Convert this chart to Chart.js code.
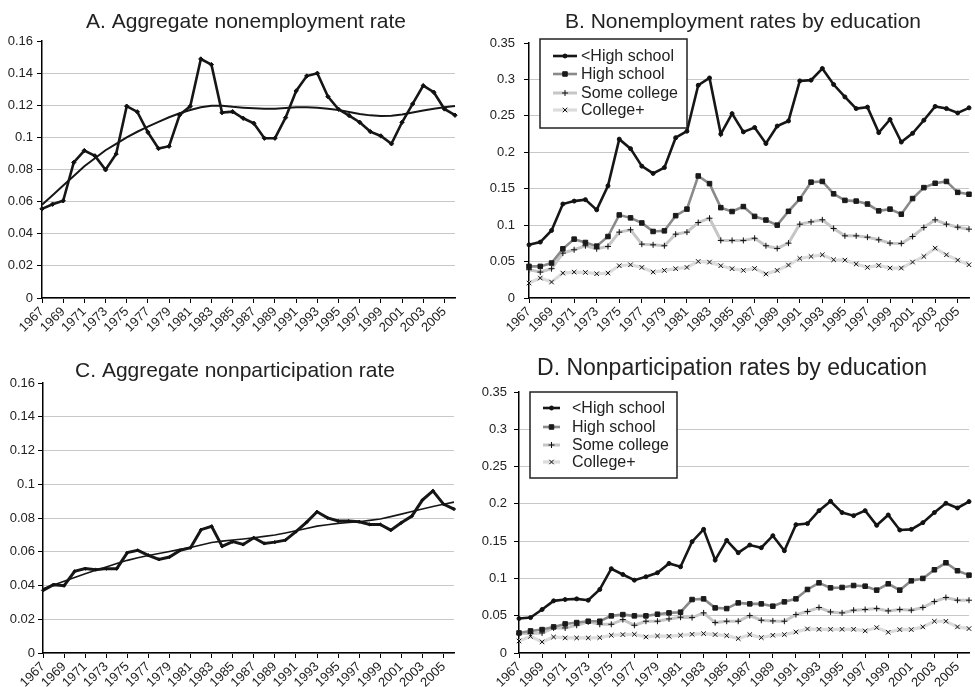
<!DOCTYPE html>
<html><head><meta charset="utf-8">
<script src="https://cdn.jsdelivr.net/npm/chart.js@4/dist/chart.umd.min.js"></script>
<style>
html,body{margin:0;padding:0;background:#fff;}
#wrap{position:relative;width:975px;height:687px;background:#fff;overflow:hidden;}
canvas{position:absolute;}
</style>
</head><body><div id="wrap">
<canvas id="cA" width="487" height="343" style="left:0;top:0;width:487px;height:343px"></canvas>
<canvas id="cB" width="488" height="343" style="left:487px;top:0;width:488px;height:343px"></canvas>
<canvas id="cC" width="487" height="344" style="left:0;top:343px;width:487px;height:344px"></canvas>
<canvas id="cD" width="505" height="344" style="left:470px;top:343px;width:505px;height:344px"></canvas>
</div>
<script>
// ---------- DATA ----------
const years = ['1967','1968','1969','1970','1971','1972','1973','1974','1975','1976','1977','1978','1979','1980',
  '1981','1982','1983','1984','1985','1986','1987','1988','1989','1990','1991','1992','1993','1994','1995','1996',
  '1997','1998','1999','2000','2001','2002','2003','2004','2005','2006'];

const seriesNames = ['<High school','High school','Some college','College+'];

// A. Aggregate nonemployment rate
const aggNonemp = [0.0555,0.0584,0.0605,0.0844,0.0918,0.0885,0.0798,0.0897,0.1194,0.1159,0.1032,0.0931,0.0945,0.114,0.1194,0.1488,0.1453,0.1154,0.116,
  0.1119,0.1088,0.0995,0.0995,0.1123,0.1289,0.1382,0.1399,0.1254,0.1175,0.1136,0.1094,0.1036,0.1009,0.096,0.1094,0.1208,0.1322,0.1281,0.1177,0.1138];
const aggNonempTrend = [0.058,0.064,0.070,0.076,0.082,0.087,0.092,0.096,0.100,0.1035,0.1067,0.1097,0.1125,0.115,0.117,0.1187,0.1197,0.1197,0.119,
  0.1185,0.1181,0.1178,0.1178,0.1183,0.1187,0.1188,0.1185,0.1178,0.117,0.1158,0.1146,0.1137,0.1133,0.1135,0.1143,0.1155,0.1167,0.1178,0.1188,0.1196];

// B. Nonemployment rates by education
const nonempLessHS = [0.073,0.0767,0.0927,0.129,0.133,0.135,0.121,0.154,0.218,0.205,0.181,0.171,0.179,0.220,0.229,0.292,0.302,0.225,0.253,
  0.228,0.234,0.212,0.236,0.243,0.298,0.299,0.315,0.293,0.276,0.260,0.262,0.227,0.245,0.214,0.226,0.244,0.263,0.260,0.254,0.261];
const nonempHS = [0.0434,0.0434,0.048,0.0675,0.0808,0.0762,0.0712,0.0844,0.114,0.110,0.103,0.0913,0.0922,0.113,0.122,0.1675,0.157,0.124,0.1187,
  0.1255,0.112,0.107,0.100,0.119,0.136,0.159,0.160,0.143,0.134,0.133,0.129,0.1196,0.122,0.115,0.1365,0.1515,0.1575,0.160,0.145,0.1424];
const nonempSomeCol = [0.0388,0.0356,0.0402,0.0616,0.0662,0.0717,0.0675,0.0707,0.0904,0.0936,0.0739,0.073,0.0717,0.0876,0.0904,0.1036,0.1095,0.079,0.079,
  0.079,0.082,0.0717,0.068,0.0753,0.1013,0.1045,0.1073,0.0954,0.0853,0.0853,0.0835,0.0799,0.0753,0.0749,0.0844,0.0968,0.1073,0.1013,0.0972,0.0945];
const nonempColPlus = [0.0205,0.0274,0.0219,0.0342,0.0356,0.0351,0.0333,0.0342,0.0443,0.0456,0.042,0.0356,0.0379,0.0402,0.042,0.0502,0.0493,0.0443,0.0402,
  0.0379,0.0406,0.0329,0.0379,0.0452,0.0543,0.057,0.0593,0.0525,0.052,0.0466,0.042,0.0447,0.0411,0.0411,0.0493,0.057,0.0685,0.0593,0.052,0.0456];

// C. Aggregate nonparticipation rate
const aggNonpart = [0.0371,0.0405,0.0399,0.0484,0.05,0.0494,0.05,0.05,0.0595,0.0608,0.0579,0.0555,0.0569,0.0608,0.0624,0.0731,0.0751,0.0632,0.066,
  0.0643,0.0683,0.0649,0.0657,0.0669,0.0719,0.0774,0.0837,0.0801,0.0782,0.0782,0.0778,0.0762,0.0762,0.0728,0.0772,0.0811,0.0906,0.0961,0.0882,0.0853];
const aggNonpartTrend = [0.038,0.0403,0.0425,0.0448,0.047,0.049,0.051,0.053,0.0549,0.0565,0.0578,0.059,0.0602,0.0614,0.0625,0.064,0.0655,0.0663,0.067,
  0.0676,0.0683,0.0691,0.0699,0.0711,0.0724,0.0738,0.0752,0.076,0.0768,0.0773,0.0778,0.0786,0.0794,0.0808,0.0823,0.0838,0.0853,0.0868,0.0882,0.0894];

// D. Nonparticipation rates by education
const nonpartLessHS = [0.0462,0.0475,0.0583,0.0699,0.0717,0.0726,0.0708,0.0852,0.113,0.1053,0.0977,0.1022,0.1076,0.1201,0.1156,0.1493,0.1658,0.1246,0.151,
  0.1345,0.1448,0.1412,0.1573,0.1372,0.1721,0.1735,0.1909,0.2035,0.1883,0.1842,0.1909,0.1712,0.1851,0.1649,0.1658,0.1748,0.1883,0.2008,0.1945,0.203];
const nonpartHS = [0.0269,0.0296,0.0314,0.035,0.039,0.0408,0.0426,0.0426,0.0498,0.0515,0.0498,0.0498,0.052,0.0538,0.0547,0.0717,0.0726,0.0605,0.0596,
  0.0672,0.0659,0.0659,0.0628,0.0686,0.0726,0.0852,0.0941,0.0874,0.0879,0.0905,0.0896,0.0843,0.0928,0.0843,0.0968,0.1,0.1116,0.121,0.1103,0.1044];
const nonpartSomeCol = [0.026,0.026,0.0269,0.0336,0.0336,0.0372,0.0417,0.0385,0.0385,0.0448,0.0372,0.0426,0.0426,0.0457,0.048,0.0475,0.0538,0.0408,0.0426,
  0.0426,0.0502,0.0439,0.043,0.0426,0.0515,0.0556,0.061,0.0551,0.0538,0.0574,0.0583,0.0596,0.0565,0.0583,0.0574,0.061,0.069,0.0744,0.0708,0.0708];
const nonpartColPlus = [0.0161,0.0224,0.0148,0.0215,0.0202,0.0202,0.0202,0.0206,0.0238,0.0247,0.0251,0.0215,0.0229,0.0224,0.0238,0.0251,0.026,0.0247,0.0233,
  0.0193,0.0247,0.0206,0.0238,0.0247,0.0282,0.0323,0.0318,0.0318,0.0318,0.0318,0.0296,0.0341,0.0278,0.0314,0.0314,0.035,0.0426,0.0426,0.035,0.0327];

// ---------- STYLE ----------
const FONT = "'Liberation Sans', Arial, Helvetica, sans-serif";
const TXT = '#222';

function xAxis(h) {
  return {
    type: 'category',
    grid: { drawOnChartArea: false, drawTicks: true, tickLength: 5, tickColor: '#000', tickWidth: 1 },
    border: { color: '#000', width: 1.5 },
    ticks: { autoSkip: false, minRotation: 45, maxRotation: 45, color: TXT, padding: 1,
             font: { family: FONT, size: 13 } },
    afterBuildTicks: s => { s.ticks = s.ticks.filter(t => t.value % 2 === 0); },
    afterFit: s => { s.height = h; }
  };
}
function yAxis(max, step, w, pad) {
  return {
    min: 0, max: max,
    grid: { color: c => (c.tick && c.tick.value >= max - 1e-9) ? 'rgba(0,0,0,0)' : '#c8c8c8',
            lineWidth: 1, tickColor: '#000', tickLength: 5, drawTicks: true },
    border: { color: '#000', width: 1.5 },
    ticks: { stepSize: step, color: TXT, padding: pad, font: { family: FONT, size: 13 },
             callback: v => String(parseFloat(Number(v).toFixed(4))) },
    afterFit: s => { s.width = w; }
  };
}

function deco(cfg) {
  return {
    id: 'deco',
    afterDraw(chart) {
      const ctx = chart.ctx;
      ctx.save();
      ctx.fillStyle = TXT;
      ctx.font = cfg.titleSize + 'px ' + FONT;
      ctx.textAlign = 'center';
      ctx.textBaseline = 'alphabetic';
      ctx.fillText(cfg.title, cfg.tx, cfg.ty);
      if (cfg.legend) {
        const L = cfg.legend;
        ctx.fillStyle = '#fff';
        ctx.fillRect(L.x, L.y, L.w, L.h);
        ctx.strokeStyle = '#222';
        ctx.lineWidth = 1.5;
        ctx.strokeRect(L.x, L.y, L.w, L.h);
        chart.data.datasets.forEach((ds, i) => {
          const y = L.rows[i];
          ctx.beginPath();
          ctx.strokeStyle = ds.borderColor;
          ctx.lineWidth = ds.borderWidth;
          ctx.moveTo(L.sx0, y); ctx.lineTo(L.sx1, y);
          ctx.stroke();
          ctx.fillStyle = ds.pointBackgroundColor;
          ctx.strokeStyle = ds.pointBorderColor;
          ctx.lineWidth = ds.pointBorderWidth;
          Chart.helpers.drawPoint(ctx, { pointStyle: ds.pointStyle, radius: ds.pointRadius, rotation: 0, borderWidth: ds.pointBorderWidth },
            (L.sx0 + L.sx1) / 2, y);
          ctx.fillStyle = TXT;
          ctx.font = L.size + 'px ' + FONT;
          ctx.textAlign = 'left';
          ctx.textBaseline = 'middle';
          ctx.fillText(ds.label, L.tx, y + 1);
        });
      }
      ctx.restore();
    }
  };
}

function eduSets(a, b, c, d) {
  return [
    { label: seriesNames[0], data: a, borderColor: '#161616', borderWidth: 2.6, pointStyle: 'circle', pointRadius: 2,
      pointBackgroundColor: '#111', pointBorderColor: '#111', pointBorderWidth: 1 },
    { label: seriesNames[1], data: b, borderColor: '#8a8a8a', borderWidth: 2.6, pointStyle: 'rect', pointRadius: 3.2,
      pointBackgroundColor: '#1a1a1a', pointBorderColor: '#1a1a1a', pointBorderWidth: 1 },
    { label: seriesNames[2], data: c, borderColor: '#c6c6c6', borderWidth: 3, pointStyle: 'cross', pointRadius: 3,
      pointBackgroundColor: '#111', pointBorderColor: '#111', pointBorderWidth: 1 },
    { label: seriesNames[3], data: d, borderColor: '#dcdcdc', borderWidth: 3.2, pointStyle: 'crossRot', pointRadius: 3.2,
      pointBackgroundColor: '#111', pointBorderColor: '#111', pointBorderWidth: 1 }
  ];
}

function makeChart(id, datasets, opts) {
  return new Chart(document.getElementById(id), {
    type: 'line',
    data: { labels: years, datasets: datasets },
    options: {
      responsive: false, animation: false, devicePixelRatio: 1, events: [],
      layout: { padding: { left: 0, top: opts.top, right: opts.right, bottom: 0 } },
      elements: { line: { tension: 0 } },
      plugins: { legend: { display: false }, tooltip: { enabled: false }, title: { display: false } },
      scales: { x: xAxis(opts.xh), y: yAxis(opts.max, opts.step, opts.yw, opts.ypad) }
    },
    plugins: [deco(opts.deco)]
  });
}

// A
makeChart('cA', [
  { label: 'Actual', data: aggNonemp, borderColor: '#161616', borderWidth: 2.6, pointStyle: 'rectRot', pointRadius: 2.2,
    pointBackgroundColor: '#111', pointBorderColor: '#111', pointBorderWidth: 1 },
  { label: 'Trend', data: aggNonempTrend, borderColor: '#161616', borderWidth: 2, pointRadius: 0 }
], { top: 41, right: 32, xh: 45, yw: 42, ypad: 4, max: 0.16, step: 0.02,
     deco: { title: 'A. Aggregate nonemployment rate', titleSize: 21, tx: 246, ty: 28 } });

// B
makeChart('cB', eduSets(nonempLessHS, nonempHS, nonempSomeCol, nonempColPlus),
  { top: 43, right: 6, xh: 45, yw: 42, ypad: 9, max: 0.35, step: 0.05,
    deco: { title: 'B. Nonemployment rates by education', titleSize: 21, tx: 256, ty: 27.5,
            legend: { x: 53, y: 39, w: 147, h: 89, rows: [56, 74, 93, 110], sx0: 66, sx1: 90, tx: 94, size: 16 } } });

// C
makeChart('cC', [
  { label: 'Actual', data: aggNonpart, borderColor: '#161616', borderWidth: 3, pointStyle: 'rectRot', pointRadius: 1.6,
    pointBackgroundColor: '#111', pointBorderColor: '#111', pointBorderWidth: 1 },
  { label: 'Trend', data: aggNonpartTrend, borderColor: '#161616', borderWidth: 1.6, pointRadius: 0 }
], { top: 40, right: 33, xh: 34, yw: 43, ypad: 3, max: 0.16, step: 0.02,
     deco: { title: 'C. Aggregate nonparticipation rate', titleSize: 21, tx: 235, ty: 34 } });

// D
makeChart('cD', eduSets(nonpartLessHS, nonpartHS, nonpartSomeCol, nonpartColPlus),
  { top: 49, right: 6, xh: 34, yw: 49, ypad: 7, max: 0.35, step: 0.05,
    deco: { title: 'D. Nonparticipation rates by education', titleSize: 23, tx: 262, ty: 32,
            legend: { x: 60, y: 49, w: 147, h: 86, rows: [65, 84, 102, 119], sx0: 73, sx1: 90, tx: 102, size: 16 } } });
</script>
</body></html>
